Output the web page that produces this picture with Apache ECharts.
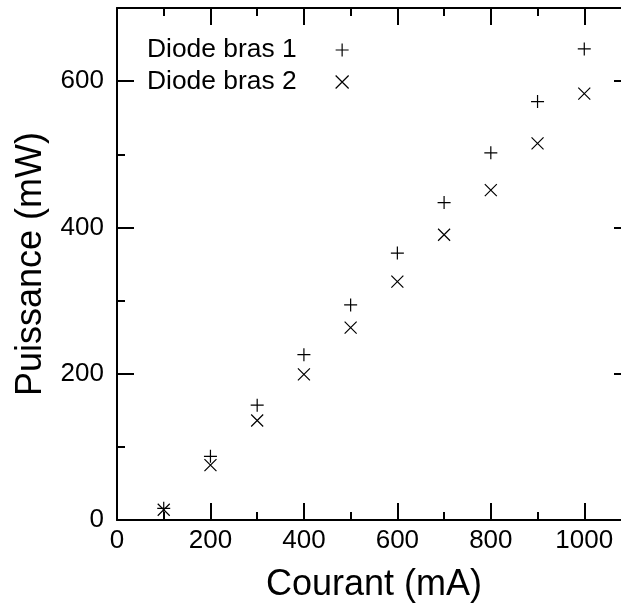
<!DOCTYPE html>
<html>
<head>
<meta charset="utf-8">
<script src="https://cdn.jsdelivr.net/npm/echarts@6/dist/echarts.min.js"></script>
<style>
html,body{margin:0;padding:0;background:#fff;}
#chart{width:621px;height:610px;}
</style>
</head>
<body>
<div id="chart"></div>
<script>
var courant = [100, 200, 300, 400, 500, 600, 700, 800, 900, 1000];
var bras1 = [16, 87, 157, 226, 294, 365, 434, 502, 572, 644];
var bras2 = [14, 75, 136, 199, 263, 326, 390, 451, 515, 583];
var seriesNames = ['Diode bras 1', 'Diode bras 2'];

var FONT = '"Liberation Sans", Arial, sans-serif';
var PLUS = 'path://M0,5 L10,5 M5,0 L5,10';
var CROSS = 'path://M0,0 L10,10 M0,10 L10,0';

function pairs(xs, ys) { return xs.map(function (x, i) { return [x, ys[i]]; }); }

function axisBase(type, pos, interval, max, len, withLine, withLabel) {
  return {
    type: 'value', position: pos, min: 0, max: max, interval: interval,
    axisLine: { show: withLine, onZero: false, lineStyle: { color: '#000', width: 2 } },
    axisTick: { show: true, inside: true, length: len, lineStyle: { color: '#000', width: 2 } },
    axisLabel: { show: withLabel, showMaxLabel: false, color: '#000', fontSize: 26, fontFamily: FONT,
      margin: type === 'x' ? 8 : 13,
      formatter: function (v) { return String(v); } },
    splitLine: { show: false }
  };
}

var xMain = axisBase('x', 'bottom', 200, 1100, 17, true, true);
xMain.name = 'Courant (mA)';
xMain.nameLocation = 'middle';
xMain.nameGap = 47;
xMain.nameTextStyle = { color: '#000', fontSize: 36, fontFamily: FONT };

var yMain = axisBase('y', 'left', 200, 700, 17, true, true);
yMain.name = 'Puissance (mW)';
yMain.nameLocation = 'middle';
yMain.nameGap = 68;
yMain.nameTextStyle = { color: '#000', fontSize: 36, fontFamily: FONT };

var option = {
  backgroundColor: '#fff',
  animation: false,
  grid: { left: 117, top: 8, width: 514, height: 512, containLabel: false, outerBoundsMode: 'none' },
  xAxis: [
    xMain,
    axisBase('x', 'bottom', 100, 1100, 8, false, false),
    axisBase('x', 'top', 200, 1100, 17, true, false),
    axisBase('x', 'top', 100, 1100, 8, false, false)
  ],
  yAxis: [
    yMain,
    axisBase('y', 'left', 100, 700, 8, false, false),
    axisBase('y', 'right', 200, 700, 17, true, false),
    axisBase('y', 'right', 100, 700, 8, false, false)
  ],
  legend: {
    orient: 'vertical', left: 147, top: 37, align: 'right', itemGap: 6, padding: 0,
    itemWidth: 13, itemHeight: 13,
    formatter: function (n) { return '{t|' + n + '}'; },
    textStyle: { color: '#000', fontSize: 26, fontFamily: FONT,
      rich: { t: { color: '#000', fontSize: 26.4, fontFamily: FONT, padding: [0, 34, 0, 0] } } },
    data: [
      { name: seriesNames[0], icon: PLUS, itemStyle: { color: 'none', borderColor: '#000', borderWidth: 1.2 } },
      { name: seriesNames[1], icon: CROSS, itemStyle: { color: 'none', borderColor: '#000', borderWidth: 1.2 } }
    ]
  },
  series: [
    { name: seriesNames[0], type: 'scatter', xAxisIndex: 0, yAxisIndex: 0,
      symbol: PLUS, symbolSize: 13,
      itemStyle: { color: 'none', borderColor: '#000', borderWidth: 1.2, opacity: 1 },
      data: pairs(courant, bras1) },
    { name: seriesNames[1], type: 'scatter', xAxisIndex: 0, yAxisIndex: 0,
      symbol: CROSS, symbolSize: 12,
      itemStyle: { color: 'none', borderColor: '#000', borderWidth: 1.2, opacity: 1 },
      data: pairs(courant, bras2) }
  ]
};

var chart = echarts.init(document.getElementById('chart'), null, { renderer: 'canvas' });
chart.setOption(option);
</script>
</body>
</html>
